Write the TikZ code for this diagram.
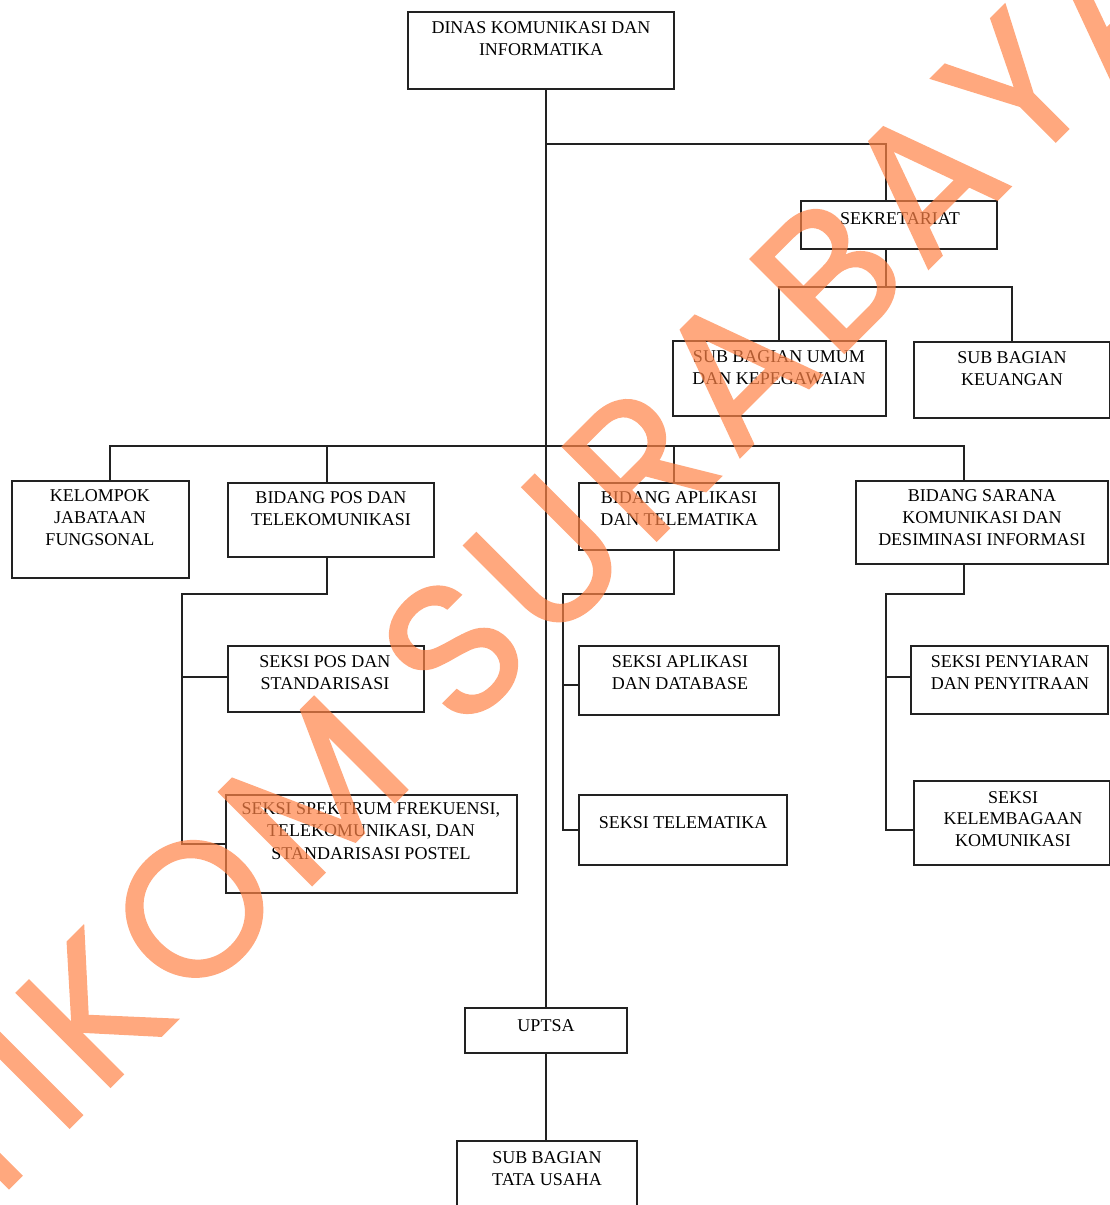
\documentclass[tikz,border=0pt]{standalone}
\usepackage{fontspec}
\setmainfont{Liberation Serif}
\newfontfamily\wmfont[LetterSpace=5.8,FakeBold=1.2]{Poppins}
\definecolor{wm}{RGB}{255,131,71}
\definecolor{ln}{RGB}{34,34,34}
\tikzset{
  orgbox/.style={draw=ln, line width=1.3pt, rectangle, inner sep=0pt, fill=white},
  orgtxt/.style={anchor=north, align=center, inner sep=0pt, font=\fontsize{18}{22.7}\selectfont},
  conn/.style={draw=ln, line width=1.3pt},
}
\begin{document}
\begin{tikzpicture}[x=1pt,y=-1pt]
\useasboundingbox (0,0) rectangle (1109,1205);
% boxes
\node[orgbox, minimum width=266pt, minimum height=77pt] (dinas) at (541,50.5) {};
\node[orgbox, minimum width=196pt, minimum height=48pt] (sekr) at (899,225) {};
\node[orgbox, minimum width=213pt, minimum height=75pt] (umum) at (779.5,378.5) {};
\node[orgbox, minimum width=196pt, minimum height=76pt] (keu) at (1012,380) {};
\node[orgbox, minimum width=177pt, minimum height=97pt] (kel) at (100.5,529.5) {};
\node[orgbox, minimum width=206pt, minimum height=74pt] (pos) at (331,520) {};
\node[orgbox, minimum width=200pt, minimum height=67pt] (apl) at (679,516.5) {};
\node[orgbox, minimum width=252pt, minimum height=83pt] (sar) at (982,522.5) {};
\node[orgbox, minimum width=196pt, minimum height=66pt] (sposs) at (326,679) {};
\node[orgbox, minimum width=291pt, minimum height=98pt] (sspek) at (371.5,844) {};
\node[orgbox, minimum width=200pt, minimum height=69pt] (sapl) at (679,680.5) {};
\node[orgbox, minimum width=208pt, minimum height=70pt] (stel) at (683,830) {};
\node[orgbox, minimum width=197pt, minimum height=68pt] (speny) at (1009.5,680) {};
\node[orgbox, minimum width=196pt, minimum height=84pt] (skel) at (1012,823) {};
\node[orgbox, minimum width=162pt, minimum height=45pt] (uptsa) at (546,1030.5) {};
\node[orgbox, minimum width=180pt, minimum height=79pt] (tata) at (547,1180.5) {};
% texts
\node[orgtxt] (t-dinas) at (541,21) {DINAS KOMUNIKASI DAN\\INFORMATIKA};
\node[orgtxt] (t-sekr) at (900,212) {SEKRETARIAT};
\node[orgtxt] (t-umum) at (779,350) {SUB BAGIAN UMUM\\DAN KEPEGAWAIAN};
\node[orgtxt] (t-keu) at (1012,351) {SUB BAGIAN\\KEUANGAN};
\node[orgtxt, font=\fontsize{18}{22}\selectfont] (t-kel) at (100,489) {KELOMPOK\\JABATAAN\\FUNGSONAL};
\node[orgtxt] (t-pos) at (331,491) {BIDANG POS DAN\\TELEKOMUNIKASI};
\node[orgtxt] (t-apl) at (679,491) {BIDANG APLIKASI\\DAN TELEMATIKA};
\node[orgtxt, font=\fontsize{18}{22}\selectfont] (t-sar) at (982,489) {BIDANG SARANA\\KOMUNIKASI DAN\\DESIMINASI INFORMASI};
\node[orgtxt] (t-sposs) at (325,655) {SEKSI POS DAN\\STANDARISASI};
\node[orgtxt] (t-sspek) at (371,802) {SEKSI SPEKTRUM FREKUENSI,\\TELEKOMUNIKASI, DAN\\STANDARISASI POSTEL};
\node[orgtxt] (t-sapl) at (680,655) {SEKSI APLIKASI\\DAN DATABASE};
\node[orgtxt] (t-stel) at (683,816) {SEKSI TELEMATIKA};
\node[orgtxt] (t-speny) at (1010,655) {SEKSI PENYIARAN\\DAN PENYITRAAN};
\node[orgtxt, font=\fontsize{18}{21.7}\selectfont] (t-skel) at (1013,791) {SEKSI\\KELEMBAGAAN\\KOMUNIKASI};
\node[orgtxt] (t-uptsa) at (546,1019) {UPTSA};
\node[orgtxt] (t-tata) at (547,1151) {SUB BAGIAN\\TATA USAHA};
% junctions
\coordinate (j1) at (546,144);
\coordinate (j2) at (886,287);
\coordinate (j3) at (546,446);
\coordinate (j4) at (182,594);
\coordinate (j5) at (563,594);
\coordinate (j6) at (886,594);
% connectors
\draw[conn] (uptsa.north |- dinas.south) -- (uptsa.north);
\draw[conn] (j1) -| ([xshift=-13pt]sekr.north);
\draw[conn] ([xshift=-13pt]sekr.south) -- (j2);
\draw[conn] ([xshift=-0.5pt]umum.north) |- (j2);
\draw[conn] (keu.north) |- (j2);
\draw[conn] ([xshift=9.5pt]kel.north) |- (j3);
\draw[conn] ([xshift=-4pt]pos.north) |- (j3);
\draw[conn] ([xshift=-5pt]apl.north) |- (j3);
\draw[conn] ([xshift=-18pt]sar.north) |- (j3);
\draw[conn] ([xshift=-4pt]pos.south) |- (j4) |- (sspek.west);
\draw[conn] ([yshift=2pt]sposs.west) -- ([yshift=2pt]sposs.west -| j4);
\draw[conn] ([xshift=-5pt]apl.south) |- (j5) |- (stel.west);
\draw[conn] ([yshift=-4.5pt]sapl.west) -- ([yshift=-4.5pt]sapl.west -| j5);
\draw[conn] ([xshift=-18pt]sar.south) |- (j6) |- ([yshift=-7pt]skel.west);
\draw[conn] ([yshift=3pt]speny.west) -- ([yshift=3pt]speny.west -| j6);
\draw[conn] (uptsa.south) -- (uptsa.south |- tata.north);
% watermark
\begin{scope}[transparency group, opacity=0.7]
\node[anchor=base west, inner sep=0pt, rotate=45, text=wm,
      font=\wmfont\fontsize{190}{190}\selectfont] (wmark) at (-108,1305) {STIKOM SURABAYA};
\end{scope}
\end{tikzpicture}
\end{document}
